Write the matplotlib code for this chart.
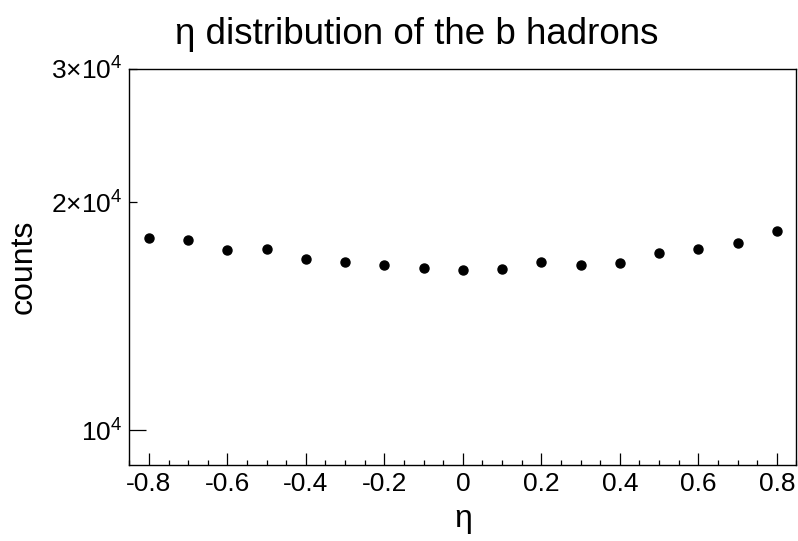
import matplotlib
matplotlib.use("Agg")
import matplotlib.pyplot as plt
from matplotlib.ticker import FixedLocator, FixedFormatter, MultipleLocator

plt.rcParams['font.family'] = ['Liberation Sans', 'DejaVu Sans']
plt.rcParams['mathtext.fontset'] = 'custom'
plt.rcParams['mathtext.rm'] = 'Liberation Sans'
plt.rcParams['mathtext.it'] = 'Liberation Sans'

# eta bin centres and counts of b hadrons
eta = [-0.8, -0.7, -0.6, -0.5, -0.4, -0.3, -0.2, -0.1, 0.0,
       0.1, 0.2, 0.3, 0.4, 0.5, 0.6, 0.7, 0.8]
counts = [17970, 17820, 17290, 17340, 16840, 16670, 16520, 16380, 16300,
          16330, 16700, 16550, 16650, 17120, 17350, 17670, 18310]

xticks = [-0.8, -0.6, -0.4, -0.2, 0, 0.2, 0.4, 0.6, 0.8]
xticklabels = ["-0.8", "-0.6", "-0.4", "-0.2", "0", "0.2", "0.4", "0.6", "0.8"]

fig = plt.figure(figsize=(7.98, 5.41), dpi=100)
ax = fig.add_axes([0.162, 0.1405, 0.836, 0.732])

ax.plot(eta, counts, 'o', color='black', markersize=6.5)

ax.set_yscale('log')
ax.set_xlim(-0.85, 0.85)
ax.set_ylim(9000, 30000)

# x axis: majors every 0.2, minors every 0.05, ticks inside
ax.xaxis.set_major_locator(FixedLocator(xticks))
ax.xaxis.set_major_formatter(FixedFormatter(xticklabels))
ax.xaxis.set_minor_locator(MultipleLocator(0.05))
ax.tick_params(axis='x', which='major', direction='in', length=8.4, width=0.9,
               labelsize=19, pad=5, top=False)
ax.tick_params(axis='x', which='minor', direction='in', length=3.6, width=0.9, top=False)

# y axis: log scale with ROOT-like labels
ax.yaxis.set_major_locator(FixedLocator([1e4]))
ax.yaxis.set_major_formatter(FixedFormatter([r'10$^{4}$']))
ax.yaxis.set_minor_locator(FixedLocator([2e4, 3e4]))
ax.yaxis.set_minor_formatter(FixedFormatter([r'2×10$^{4}$', r'3×10$^{4}$']))
ax.tick_params(axis='y', which='major', direction='in', length=12.5, width=0.9,
               labelsize=19, pad=5, right=False)
ax.tick_params(axis='y', which='minor', direction='in', length=6, width=0.9,
               labelsize=19, pad=5, right=False)

for sp in ax.spines.values():
    sp.set_linewidth(1.0)

ax.set_xlabel("η", fontsize=23, labelpad=6)
ax.set_ylabel("counts", fontsize=23, labelpad=9)

fig.text(0.522, 0.919, "η distribution of the b hadrons", fontsize=26.5,
         ha='center', va='baseline')

fig.savefig("out.png", dpi=100)
